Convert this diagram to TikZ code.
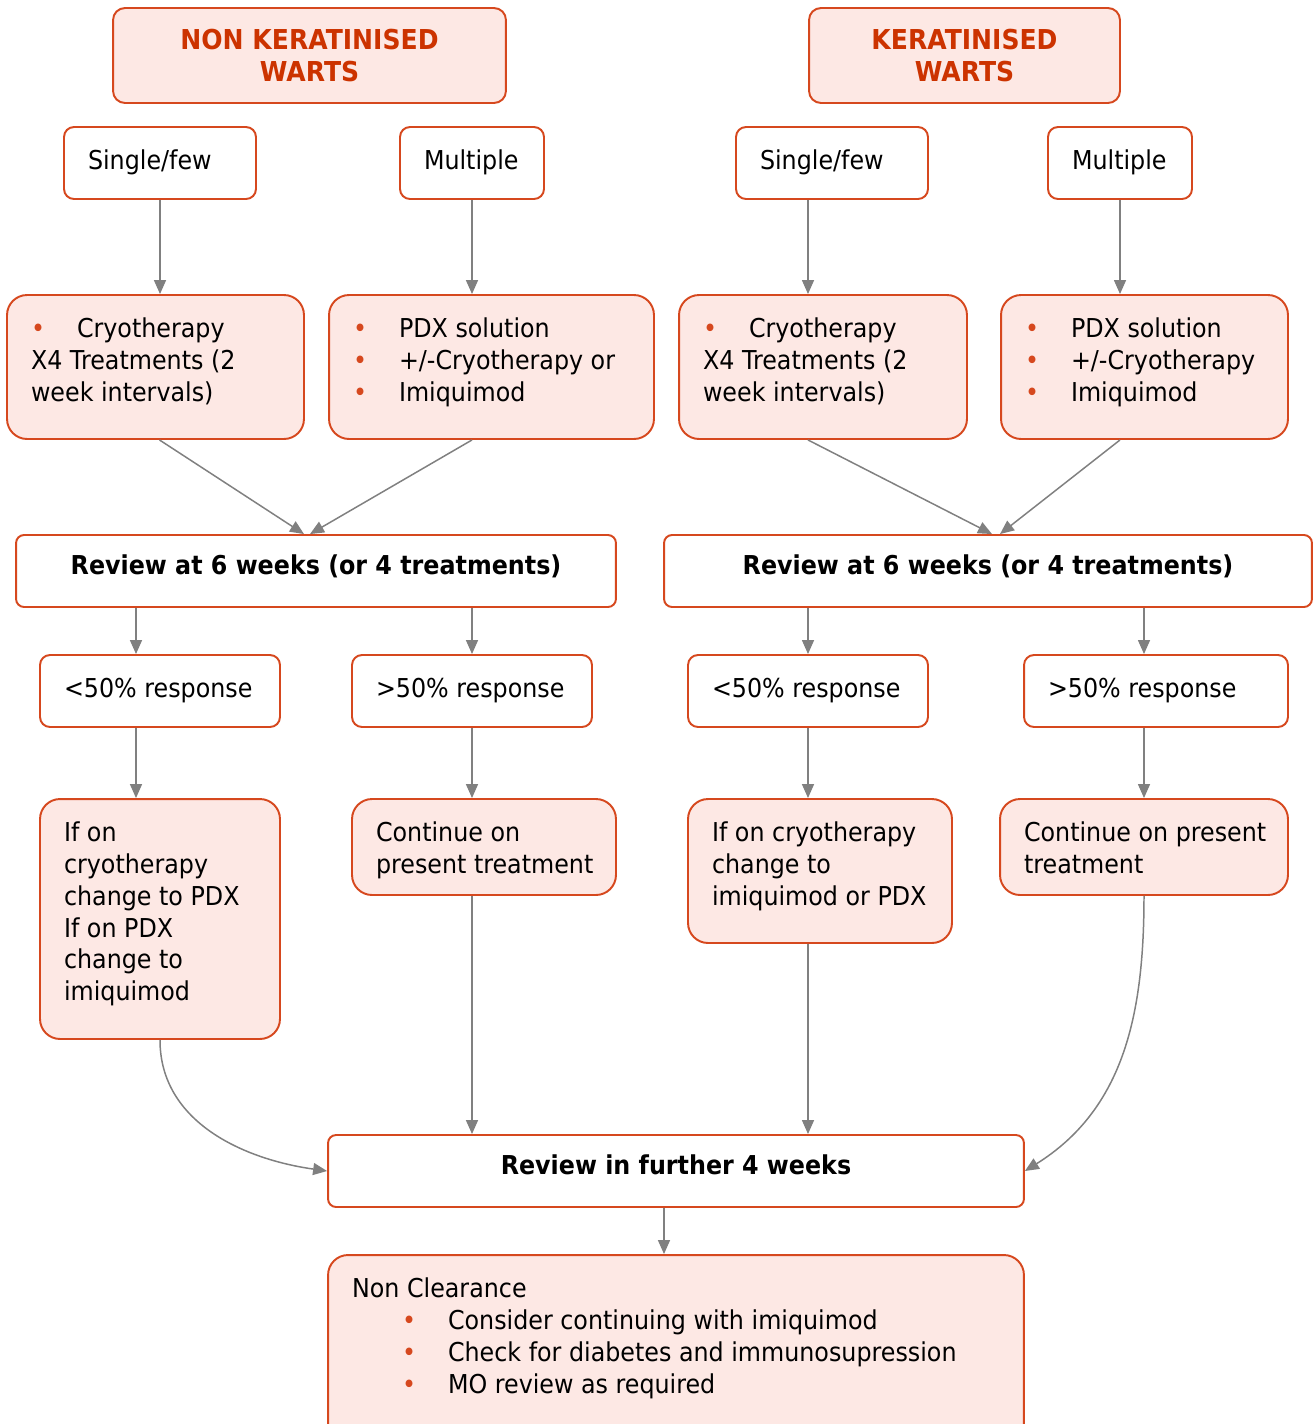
\documentclass[tikz,border=0pt]{standalone}
\usepackage{fontspec}
\setmainfont{DejaVu Sans}[FakeStretch=0.915]
\usetikzlibrary{arrows.meta,calc}

\definecolor{boxline}{RGB}{214,72,30}
\definecolor{pinkfill}{RGB}{253,232,228}
\definecolor{titletext}{RGB}{204,51,0}
\definecolor{arrowgray}{RGB}{128,128,128}

\newcommand{\basefont}{\fontsize{14.8}{18.1}\selectfont}
\newcommand{\cellbox}[3]{\parbox[c][#2cm][t]{#1cm}{\raggedright\vspace*{0.1cm}#3}}
\newcommand{\bul}{\makebox[0.92cm][l]{\textcolor{boxline}{\textbullet}}}

\begin{document}
\begin{tikzpicture}[
    x=0.02cm, y=-0.02cm,
    plainbox/.style={draw=boxline, line width=1.1pt, fill=white, rounded corners=0.2cm,
        inner xsep=0.48cm, inner ysep=0.36cm, font=\basefont},
    pinkbox/.style={plainbox, fill=pinkfill, rounded corners=0.4cm},
    titlebox/.style={draw=boxline, line width=1.1pt, fill=pinkfill, rounded corners=0.24cm,
        minimum height=1.9cm, align=center, text=titletext,
        font=\fontsize{15.6}{18.1}\selectfont\bfseries},
    reviewbox/.style={draw=boxline, line width=1.1pt, fill=white, rounded corners=0.16cm,
        minimum height=1.44cm, text depth=0.27cm, font=\basefont\bfseries},
    arr/.style={draw=arrowgray, line width=0.85pt, -{Triangle[length=0.28cm,width=0.24cm]}}
]
\useasboundingbox (0,0) rectangle (1313,1424);

% Headings
\node[titlebox, minimum width=7.86cm] (nkt) at (309.5,55.5) {NON KERATINISED\\WARTS};
\node[titlebox, minimum width=6.22cm] (kt) at (964.5,55.5) {KERATINISED\\WARTS};

% Number of warts
\node[plainbox] (sfL) at (160,163) {\cellbox{2.88}{0.72}{Single/few}};
\node[plainbox] (mL) at (472,163) {\cellbox{1.92}{0.72}{Multiple}};
\node[plainbox] (sfR) at (832,163) {\cellbox{2.88}{0.72}{Single/few}};
\node[plainbox] (mR) at (1120,163) {\cellbox{1.92}{0.72}{Multiple}};

% First treatment
\node[pinkbox] (trL1) at (155.5,367) {\cellbox{4.98}{2.16}{\bul Cryotherapy\\X4 Treatments (2\\week intervals)}};
\node[pinkbox] (trL2) at (491.5,367) {\cellbox{5.54}{2.16}{\bul PDX solution\\\bul +/-Cryotherapy or\\\bul Imiquimod}};
\node[pinkbox] (trR1) at (823,367) {\cellbox{4.80}{2.16}{\bul Cryotherapy\\X4 Treatments (2\\week intervals)}};
\node[pinkbox] (trR2) at (1144.5,367) {\cellbox{4.78}{2.16}{\bul PDX solution\\\bul +/-Cryotherapy\\\bul Imiquimod}};

% Reviews
\node[reviewbox, minimum width=12cm] (revL) at (316,571) {Review at 6 weeks (or 4 treatments)};
\node[reviewbox, minimum width=12.96cm] (revR) at (988,571) {Review at 6 weeks (or 4 treatments)};

% Responses
\node[plainbox] (loL) at (160,691) {\cellbox{3.84}{0.72}{<50\% response}};
\node[plainbox] (hiL) at (472,691) {\cellbox{3.84}{0.72}{>50\% response}};
\node[plainbox] (loR) at (808,691) {\cellbox{3.84}{0.72}{<50\% response}};
\node[plainbox] (hiR) at (1156,691) {\cellbox{4.32}{0.72}{>50\% response}};

% Next steps
\node[pinkbox] (acL1) at (160,919) {\cellbox{3.84}{4.08}{If on\\cryotherapy\\change to PDX\\If on PDX\\change to\\imiquimod}};
\node[pinkbox] (acL2) at (484,847) {\cellbox{4.32}{1.20}{Continue on\\\mbox{present treatment}}};
\node[pinkbox] (acR1) at (820,871) {\cellbox{4.32}{2.16}{If on cryotherapy\\change to\\imiquimod or PDX}};
\node[pinkbox] (acR2) at (1144,847) {\cellbox{4.80}{1.20}{\mbox{Continue on present}\\treatment}};

% Final review
\node[reviewbox, minimum width=13.92cm] (further) at (676,1171) {Review in further 4 weeks};
\node[pinkbox] (nonclear) at (676,1350) {\cellbox{12.96}{3.08}{Non Clearance\\
    \hspace*{1cm}\bul Consider continuing with imiquimod\\
    \hspace*{1cm}\bul Check for diabetes and immunosupression\\
    \hspace*{1cm}\bul MO review as required}};

% Arrows
\draw[arr] (sfL.south) -- (sfL.south |- trL1.north);
\draw[arr] (mL.south) -- (mL.south |- trL2.north);
\draw[arr] ($(sfR.south)+(-24,0)$) -- ($(sfR.south |- trR1.north)+(-24,0)$);
\draw[arr] (mR.south) -- (mR.south |- trR2.north);

\draw[arr] ($(trL1.south)+(4,0)$) -- ($(revL.north)+(-12,0)$);
\draw[arr] ($(trL2.south)+(-19.5,0)$) -- ($(revL.north)+(-6,0)$);
\draw[arr] ($(trR1.south)+(-15,0)$) -- ($(revR.north)+(4,0)$);
\draw[arr] ($(trR2.south)+(-24.5,0)$) -- ($(revR.north)+(12,0)$);

\draw[arr] ($(loL.north |- revL.south)+(-24,0)$) -- ($(loL.north)+(-24,0)$);
\draw[arr] (hiL.north |- revL.south) -- (hiL.north);
\draw[arr] (loR.north |- revR.south) -- (loR.north);
\draw[arr] ($(hiR.north |- revR.south)+(-12,0)$) -- ($(hiR.north)+(-12,0)$);

\draw[arr] ($(loL.south)+(-24,0)$) -- ($(loL.south |- acL1.north)+(-24,0)$);
\draw[arr] (hiL.south) -- (hiL.south |- acL2.north);
\draw[arr] (loR.south) -- (loR.south |- acR1.north);
\draw[arr] ($(hiR.south)+(-12,0)$) -- ($(hiR.south |- acR2.north)+(-12,0)$);

\draw[arr] (acL1.south) to[out=-90, in=172] (further.west);
\draw[arr] ($(acL2.south)+(-12,0)$) -- ($(acL2.south |- further.north)+(-12,0)$);
\draw[arr] ($(acR1.south)+(-12,0)$) -- ($(acR1.south |- further.north)+(-12,0)$);
\draw[arr] (acR2.south) to[out=-90, in=32] (further.east);

\draw[arr] ($(further.south)+(-12,0)$) -- ($(further.south |- nonclear.north)+(-12,0)$);

\end{tikzpicture}
\end{document}
